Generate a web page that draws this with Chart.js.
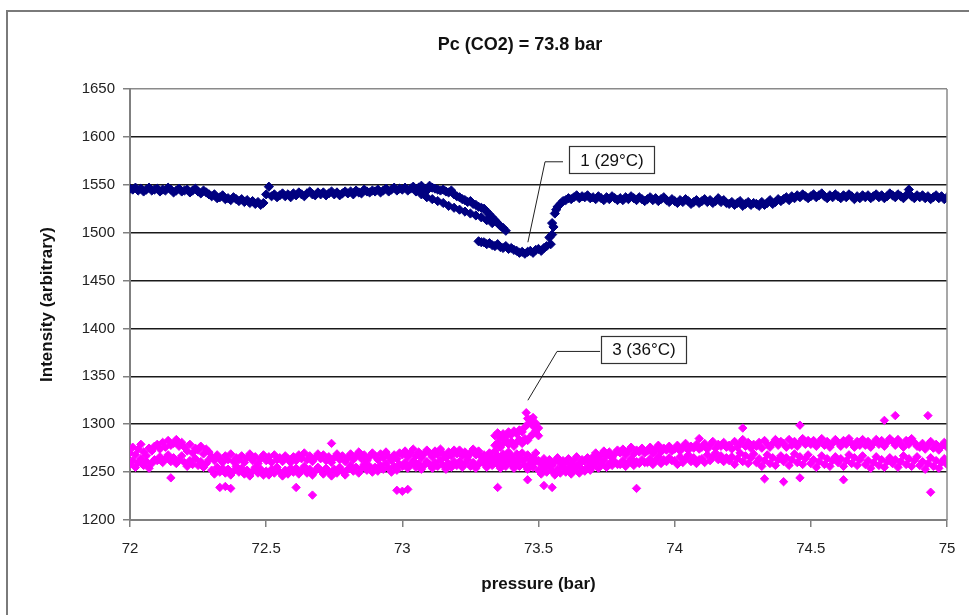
<!DOCTYPE html>
<html>
<head>
<meta charset="utf-8">
<script src="https://cdn.jsdelivr.net/npm/chart.js@4/dist/chart.umd.min.js"></script>
<style>
  html, body { margin: 0; padding: 0; background: #fff; }
  canvas { display: block; }
</style>
</head>
<body>
<canvas id="co2Chart" width="969" height="615"></canvas>
<script>
// pressure sweep (bar), shared by both runs
const pressure = [
  72.00, 72.01, 72.02, 72.03, 72.04, 72.05, 72.06, 72.07, 72.08, 72.09,
  72.10, 72.11, 72.12, 72.13, 72.14, 72.15, 72.16, 72.17, 72.18, 72.19,
  72.20, 72.21, 72.22, 72.23, 72.24, 72.25, 72.26, 72.27, 72.28, 72.29,
  72.30, 72.31, 72.32, 72.33, 72.34, 72.35, 72.36, 72.37, 72.38, 72.39,
  72.40, 72.41, 72.42, 72.43, 72.44, 72.45, 72.46, 72.47, 72.48, 72.49,
  72.50, 72.51, 72.52, 72.53, 72.54, 72.55, 72.56, 72.57, 72.58, 72.59,
  72.60, 72.61, 72.62, 72.63, 72.64, 72.65, 72.66, 72.67, 72.68, 72.69,
  72.70, 72.71, 72.72, 72.73, 72.74, 72.75, 72.76, 72.77, 72.78, 72.79,
  72.80, 72.81, 72.82, 72.83, 72.84, 72.85, 72.86, 72.87, 72.88, 72.89,
  72.90, 72.91, 72.92, 72.93, 72.94, 72.95, 72.96, 72.97, 72.98, 72.99,
  73.00, 73.01, 73.02, 73.03, 73.04, 73.05, 73.06, 73.07, 73.08, 73.09,
  73.10, 73.11, 73.12, 73.13, 73.14, 73.15, 73.16, 73.17, 73.18, 73.19,
  73.20, 73.21, 73.22, 73.23, 73.24, 73.25, 73.26, 73.27, 73.28, 73.29,
  73.30, 73.31, 73.32, 73.33, 73.34, 73.35, 73.36, 73.37, 73.38, 73.39,
  73.40, 73.41, 73.42, 73.43, 73.44, 73.45, 73.46, 73.47, 73.48, 73.49,
  73.50, 73.51, 73.52, 73.53, 73.54, 73.55, 73.56, 73.57, 73.58, 73.59,
  73.60, 73.61, 73.62, 73.63, 73.64, 73.65, 73.66, 73.67, 73.68, 73.69,
  73.70, 73.71, 73.72, 73.73, 73.74, 73.75, 73.76, 73.77, 73.78, 73.79,
  73.80, 73.81, 73.82, 73.83, 73.84, 73.85, 73.86, 73.87, 73.88, 73.89,
  73.90, 73.91, 73.92, 73.93, 73.94, 73.95, 73.96, 73.97, 73.98, 73.99,
  74.00, 74.01, 74.02, 74.03, 74.04, 74.05, 74.06, 74.07, 74.08, 74.09,
  74.10, 74.11, 74.12, 74.13, 74.14, 74.15, 74.16, 74.17, 74.18, 74.19,
  74.20, 74.21, 74.22, 74.23, 74.24, 74.25, 74.26, 74.27, 74.28, 74.29,
  74.30, 74.31, 74.32, 74.33, 74.34, 74.35, 74.36, 74.37, 74.38, 74.39,
  74.40, 74.41, 74.42, 74.43, 74.44, 74.45, 74.46, 74.47, 74.48, 74.49,
  74.50, 74.51, 74.52, 74.53, 74.54, 74.55, 74.56, 74.57, 74.58, 74.59,
  74.60, 74.61, 74.62, 74.63, 74.64, 74.65, 74.66, 74.67, 74.68, 74.69,
  74.70, 74.71, 74.72, 74.73, 74.74, 74.75, 74.76, 74.77, 74.78, 74.79,
  74.80, 74.81, 74.82, 74.83, 74.84, 74.85, 74.86, 74.87, 74.88, 74.89,
  74.90, 74.91, 74.92, 74.93, 74.94, 74.95, 74.96, 74.97, 74.98, 74.99,
  75.00
];

// run 1 (29 C)
const intensity1 = [
  1546, 1545, 1547, 1544, 1546, 1543, 1545, 1547, 1544, 1545,
  1546, 1543, 1545, 1544, 1547, 1545, 1542, 1544, 1546, 1543,
  1544, 1545, 1542, 1544, 1546, 1543, 1541, 1544, 1542, 1540,
  1538, 1540, 1536, 1537, 1539, 1535, 1536, 1534, 1537, 1535,
  1533, 1535, 1532, 1534, 1531, 1533, 1530, 1532, 1529, 1531,
  1540, 1548, 1538, 1540, 1537, 1539, 1541, 1538, 1540, 1537,
  1541, 1539, 1542, 1540, 1538, 1541, 1543, 1540, 1539, 1542,
  1540, 1542, 1539, 1541, 1543, 1540, 1542, 1539, 1541, 1543,
  1541, 1543, 1540, 1544, 1542, 1541, 1545, 1543, 1542, 1544,
  1543, 1545, 1542, 1544, 1546, 1543, 1545, 1547, 1544, 1546,
  1545, 1547, 1544, 1546, 1548, 1545, 1547, 1549, 1546, 1544,
  1549, 1547, 1546, 1545, 1544, 1545, 1543, 1542, 1544, 1540,
  1538, 1537, 1535, 1534, 1532, 1533, 1530, 1529, 1527, 1526,
  1490, 1488, 1489, 1487, 1486, 1488, 1485, 1484, 1486, 1483,
  1484, 1482, 1481, 1479, 1480, 1478, 1480, 1481, 1479, 1482,
  1483, 1481, 1484, 1486, 1495, 1510, 1520, 1527, 1530, 1533,
  1534, 1536, 1535, 1537, 1539, 1536, 1538, 1537, 1539, 1536,
  1537, 1535, 1538, 1536, 1534, 1537, 1535, 1538, 1536, 1534,
  1536, 1534, 1537, 1535, 1538, 1536, 1534, 1537, 1535, 1533,
  1535, 1537, 1534, 1536, 1533, 1535, 1537, 1534, 1532, 1535,
  1533, 1531, 1534, 1532, 1535, 1533, 1530, 1532, 1534, 1531,
  1533, 1535, 1532, 1534, 1531, 1533, 1536, 1532, 1534, 1531,
  1530, 1532, 1529, 1531, 1533, 1528, 1530, 1532, 1529, 1531,
  1530, 1528, 1532, 1529, 1531, 1534, 1530, 1532, 1535, 1533,
  1535, 1537, 1534, 1538, 1536, 1539, 1537, 1540, 1538, 1536,
  1538, 1540, 1537, 1539, 1541, 1538, 1536, 1539, 1537, 1540,
  1538, 1536, 1539, 1537, 1540, 1538, 1535, 1538, 1536, 1539,
  1537, 1539, 1536, 1538, 1540, 1537, 1539, 1536, 1538, 1541,
  1539, 1537, 1540, 1538, 1536, 1539, 1545, 1538, 1536, 1539,
  1537, 1539, 1536, 1538, 1535, 1537, 1539, 1536, 1538, 1535,
  1537
];

// run 1: second branch of the descent and the steep wall of the dip
const branch1P = [73.05, 73.07, 73.09, 73.11, 73.13, 73.15, 73.17, 73.19, 73.21, 73.23,
                  73.25, 73.27, 73.29, 73.31, 73.33, 73.30, 73.31, 73.32, 73.33, 73.34,
                  73.35, 73.36, 73.37, 73.38, 73.28, 73.29, 73.545, 73.55, 73.555, 73.565];
const branch1I = [1543, 1540, 1537, 1535, 1533, 1531, 1528, 1526, 1524, 1522,
                  1520, 1518, 1516, 1513, 1510, 1525, 1522, 1519, 1516, 1513,
                  1510, 1507, 1505, 1502, 1491, 1490, 1488, 1498, 1506, 1524];

// run 3 (36 C), upper and lower part of the noisy band
const intensity3a = [
  1270, 1276, 1268, 1274, 1279, 1271, 1267, 1275, 1272, 1277,
  1279, 1274, 1281, 1276, 1283, 1278, 1280, 1284, 1277, 1281,
  1276, 1272, 1279, 1270, 1275, 1273, 1277, 1269, 1274, 1271,
  1266, 1262, 1268, 1264, 1260, 1267, 1263, 1269, 1261, 1265,
  1263, 1267, 1260, 1265, 1269, 1262, 1266, 1259, 1264, 1268,
  1262, 1266, 1260, 1268, 1263, 1265, 1261, 1267, 1264, 1260,
  1266, 1262, 1268, 1264, 1270, 1263, 1267, 1261, 1265, 1269,
  1264, 1268, 1262, 1266, 1260, 1265, 1269, 1263, 1267, 1261,
  1265, 1269, 1263, 1267, 1271, 1264, 1268, 1262, 1266, 1270,
  1267, 1263, 1269, 1265, 1271, 1266, 1262, 1268, 1264, 1270,
  1268, 1272, 1266, 1270, 1274, 1267, 1271, 1265, 1269, 1273,
  1270, 1266, 1272, 1268, 1274, 1269, 1265, 1271, 1267, 1273,
  1269, 1273, 1267, 1271, 1266, 1270, 1274, 1268, 1272, 1266,
  1268, 1264, 1270, 1266, 1272, 1267, 1263, 1269, 1265, 1271,
  1267, 1263, 1269, 1265, 1270, 1264, 1268, 1262, 1266, 1270,
  1262, 1258, 1264, 1260, 1263, 1257, 1261, 1265, 1259, 1262,
  1260, 1264, 1258, 1262, 1266, 1259, 1263, 1261, 1265, 1260,
  1266, 1270, 1264, 1268, 1272, 1267, 1271, 1265, 1269, 1273,
  1270, 1274, 1268, 1272, 1276, 1269, 1273, 1271, 1275, 1270,
  1272, 1276, 1270, 1274, 1278, 1271, 1275, 1273, 1277, 1272,
  1274, 1278, 1272, 1276, 1280, 1273, 1277, 1275, 1279, 1274,
  1276, 1280, 1274, 1278, 1282, 1275, 1279, 1277, 1281, 1276,
  1278, 1274, 1282, 1276, 1280, 1284, 1277, 1281, 1275, 1279,
  1277, 1281, 1275, 1283, 1279, 1276, 1280, 1284, 1278, 1282,
  1280, 1276, 1284, 1278, 1282, 1277, 1281, 1285, 1279, 1283,
  1279, 1283, 1277, 1281, 1285, 1278, 1282, 1276, 1280, 1284,
  1281, 1277, 1283, 1279, 1285, 1280, 1276, 1282, 1278, 1284,
  1278, 1282, 1276, 1280, 1284, 1279, 1283, 1277, 1281, 1285,
  1282, 1278, 1284, 1280, 1276, 1283, 1279, 1285, 1281, 1277,
  1276, 1280, 1274, 1278, 1282, 1275, 1279, 1273, 1277, 1281,
  1276
];

const intensity3b = [
  1258, 1262, 1255, 1260, 1264, 1257, 1261, 1254, 1259, 1263,
  1262, 1266, 1260, 1264, 1268, 1261, 1265, 1259, 1263, 1267,
  1260, 1256, 1262, 1258, 1264, 1257, 1261, 1255, 1259, 1263,
  1252, 1248, 1255, 1250, 1254, 1249, 1253, 1247, 1251, 1256,
  1250, 1254, 1248, 1252, 1246, 1251, 1255, 1249, 1253, 1247,
  1251, 1247, 1253, 1249, 1255, 1250, 1246, 1252, 1248, 1254,
  1250, 1254, 1248, 1252, 1256, 1249, 1253, 1247, 1251, 1255,
  1252, 1248, 1254, 1250, 1246, 1253, 1249, 1255, 1251, 1247,
  1253, 1257, 1251, 1255, 1249, 1254, 1258, 1252, 1256, 1250,
  1255, 1251, 1257, 1253, 1259, 1254, 1250, 1256, 1252, 1258,
  1256, 1260, 1254, 1258, 1262, 1255, 1259, 1253, 1257, 1261,
  1258, 1254, 1260, 1256, 1262, 1257, 1253, 1259, 1255, 1261,
  1257, 1261, 1255, 1259, 1263, 1256, 1260, 1254, 1258, 1262,
  1259, 1255, 1261, 1257, 1263, 1258, 1254, 1260, 1256, 1262,
  1258, 1254, 1260, 1256, 1262, 1257, 1253, 1259, 1255, 1261,
  1252, 1248, 1254, 1250, 1256, 1251, 1247, 1253, 1249, 1255,
  1250, 1254, 1248, 1252, 1256, 1249, 1253, 1251, 1255, 1252,
  1256, 1260, 1254, 1258, 1262, 1255, 1259, 1257, 1261, 1258,
  1258, 1262, 1256, 1260, 1264, 1257, 1261, 1259, 1263, 1260,
  1260, 1264, 1258, 1262, 1266, 1259, 1263, 1261, 1265, 1262,
  1262, 1258, 1266, 1260, 1264, 1268, 1261, 1265, 1259, 1263,
  1264, 1260, 1268, 1262, 1266, 1270, 1263, 1267, 1261, 1265,
  1262, 1266, 1258, 1264, 1270, 1261, 1267, 1259, 1265, 1269,
  1260, 1264, 1256, 1262, 1268, 1259, 1265, 1257, 1263, 1267,
  1261, 1265, 1257, 1263, 1269, 1260, 1266, 1258, 1264, 1268,
  1259, 1263, 1255, 1261, 1267, 1258, 1264, 1256, 1262, 1266,
  1260, 1264, 1256, 1262, 1268, 1259, 1265, 1257, 1263, 1267,
  1258, 1262, 1254, 1260, 1266, 1257, 1263, 1255, 1261, 1265,
  1259, 1263, 1255, 1261, 1267, 1258, 1264, 1256, 1262, 1266,
  1257, 1261, 1253, 1259, 1265, 1256, 1262, 1254, 1260, 1264,
  1258
];

// run 3: the bump near 73.45 bar
const bump3P = [73.34, 73.35, 73.36, 73.37, 73.38, 73.39, 73.40, 73.41, 73.42, 73.43, 73.44, 73.45, 73.46, 73.47, 73.48, 73.49, 73.50,
                73.34, 73.35, 73.36, 73.37, 73.38, 73.39, 73.40, 73.41, 73.42, 73.43, 73.44, 73.45, 73.46, 73.47, 73.48, 73.49, 73.50,
                73.455, 73.46, 73.47, 73.48];
const bump3I = [1288, 1291, 1286, 1290, 1287, 1292, 1289, 1293, 1290, 1294, 1292, 1297, 1300, 1302, 1298, 1301, 1296,
                1278, 1281, 1276, 1280, 1283, 1279, 1282, 1277, 1281, 1284, 1280, 1285, 1283, 1287, 1290, 1293, 1288,
                1312, 1306, 1305, 1307];

// run 3: stray points outside the band
const stray3P = [72.15, 72.33, 72.35, 72.37, 72.61, 72.67, 72.74, 72.98, 73.00, 73.02, 73.35, 73.46, 73.52,
                 73.55, 73.86, 74.09, 74.25, 74.33, 74.40, 74.46, 74.46, 74.62, 74.77, 74.81, 74.93, 74.94];
const stray3I = [1244, 1234, 1235, 1233, 1234, 1226, 1280, 1231, 1230, 1232, 1234, 1242, 1236,
                 1234, 1233, 1285, 1296, 1243, 1240, 1244, 1299, 1242, 1304, 1309, 1309, 1229];

const xTicks = [72, 72.5, 73, 73.5, 74, 74.5, 75];
const yTicks = [1200, 1250, 1300, 1350, 1400, 1450, 1500, 1550, 1600, 1650];

const FONT = 'Liberation Sans, Arial, Helvetica, sans-serif';

function toPoints(xs, ys) {
    return xs.map((x, i) => ({ x: x, y: ys[i] }));
}

const run1 = toPoints(pressure, intensity1).concat(toPoints(branch1P, branch1I));
const run3 = toPoints(pressure, intensity3a)
    .concat(toPoints(pressure, intensity3b))
    .concat(toPoints(bump3P, bump3I))
    .concat(toPoints(stray3P, stray3I));

// callout boxes, anchored in data units
const callouts = [
    { text: '1 (29°C)', box: [73.77, 1576], leader: [[73.59, 1574], [73.524, 1574], [73.461, 1490]] },
    { text: '3 (36°C)', box: [73.887, 1378], leader: [[73.726, 1376], [73.568, 1376], [73.461, 1325]] }
];

const decorPlugin = {
    id: 'decor',
    beforeDraw(chart) {
        const ctx = chart.ctx;
        ctx.save();
        ctx.fillStyle = '#ffffff';
        ctx.fillRect(0, 0, chart.width, chart.height);
        ctx.strokeStyle = '#7a7a7a';
        ctx.lineWidth = 2;
        ctx.strokeRect(7, 11, chart.width + 20, chart.height + 20);
        ctx.restore();
    },
    afterDraw(chart) {
        const ctx = chart.ctx;
        const area = chart.chartArea;
        const xs = chart.scales.x;
        const ys = chart.scales.y;
        ctx.save();

        // right edge of the plot area
        ctx.strokeStyle = '#8a8a8a';
        ctx.lineWidth = 1.5;
        ctx.beginPath();
        ctx.moveTo(area.right, area.top);
        ctx.lineTo(area.right, area.bottom);
        ctx.stroke();

        // chart title
        ctx.fillStyle = '#111';
        ctx.font = 'bold 18px ' + FONT;
        ctx.textAlign = 'center';
        ctx.textBaseline = 'middle';
        ctx.fillText('Pc (CO2) = 73.8 bar', 520, 45);

        // callouts
        ctx.font = '17px ' + FONT;
        callouts.forEach(c => {
            ctx.strokeStyle = '#222';
            ctx.lineWidth = 1;
            ctx.beginPath();
            c.leader.forEach((pt, i) => {
                const px = xs.getPixelForValue(pt[0]);
                const py = ys.getPixelForValue(pt[1]);
                if (i === 0) ctx.moveTo(px, py); else ctx.lineTo(px, py);
            });
            ctx.stroke();

            const cx = xs.getPixelForValue(c.box[0]);
            const cy = ys.getPixelForValue(c.box[1]);
            const w = ctx.measureText(c.text).width + 22;
            const h = 27;
            ctx.fillStyle = '#fff';
            ctx.fillRect(cx - w / 2, cy - h / 2, w, h);
            ctx.strokeStyle = '#333';
            ctx.lineWidth = 1.2;
            ctx.strokeRect(Math.round(cx - w / 2) + 0.5, Math.round(cy - h / 2) + 0.5, Math.round(w), h);
            ctx.fillStyle = '#111';
            ctx.fillText(c.text, cx, cy + 1);
        });
        ctx.restore();
    }
};

new Chart(document.getElementById('co2Chart'), {
    type: 'scatter',
    data: {
        datasets: [
            {
                label: '1 (29°C)',
                data: run1,
                pointStyle: 'rectRot',
                pointRadius: 4.6,
                borderWidth: 1,
                backgroundColor: '#000080',
                borderColor: '#000080'
            },
            {
                label: '3 (36°C)',
                data: run3,
                pointStyle: 'rectRot',
                pointRadius: 4.2,
                borderWidth: 1,
                backgroundColor: '#ff00ff',
                borderColor: '#ff00ff'
            }
        ]
    },
    options: {
        responsive: false,
        animation: false,
        layout: { padding: { top: 89, right: 22, bottom: 0, left: 0 } },
        plugins: {
            legend: { display: false },
            title: { display: false },
            tooltip: { enabled: false }
        },
        scales: {
            x: {
                type: 'linear',
                min: xTicks[0],
                max: xTicks[xTicks.length - 1],
                afterBuildTicks: scale => { scale.ticks = xTicks.map(v => ({ value: v })); },
                afterFit: scale => { scale.height = 95; },
                ticks: {
                    font: { family: FONT, size: 15 }, color: '#222', padding: 13, maxRotation: 0, autoSkip: false,
                    callback: v => String(v)
                },
                grid: { drawOnChartArea: false, drawTicks: true, tickLength: 7, color: '#808080', lineWidth: 1.5 },
                border: { color: '#808080', width: 2 },
                title: { display: true, text: 'pressure (bar)', font: { family: FONT, size: 17, weight: 'bold' }, color: '#111', padding: 20 }
            },
            y: {
                type: 'linear',
                min: yTicks[0],
                max: yTicks[yTicks.length - 1],
                afterBuildTicks: scale => { scale.ticks = yTicks.map(v => ({ value: v })); },
                afterFit: scale => { scale.width = 130; },
                ticks: { font: { family: FONT, size: 15 }, color: '#222', padding: 8, callback: v => String(v) },
                grid: {
                    color: c => (c.tick && (c.tick.value === 1650 || c.tick.value === 1200)) ? '#8a8a8a' : '#1a1a1a',
                    tickColor: '#808080',
                    lineWidth: 1.5,
                    tickLength: 7
                },
                border: { color: '#808080', width: 2 },
                title: { display: true, text: 'Intensity (arbitrary)', font: { family: FONT, size: 17, weight: 'bold' }, color: '#111', padding: 37 }
            }
        }
    },
    plugins: [decorPlugin]
});
</script>
</body>
</html>
